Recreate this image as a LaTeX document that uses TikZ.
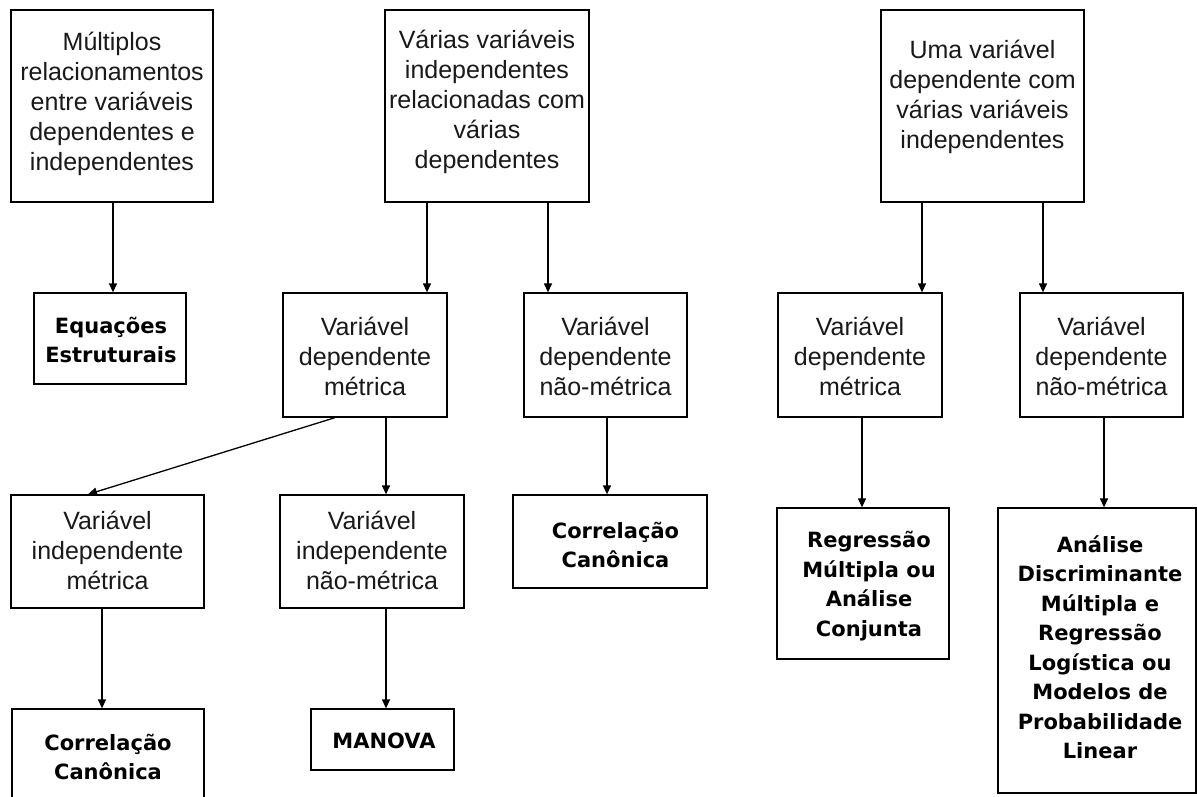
\documentclass[tikz,border=0pt]{standalone}
\usepackage{fontspec}
\setmainfont{Liberation Sans}
\newfontfamily\boldf{DejaVu Sans}
\usetikzlibrary{arrows.meta,calc}
\tikzset{
  box/.style={draw=black, line width=1.3pt, rectangle, inner sep=0pt, fill=white},
  txt/.style={align=center, inner sep=0pt, font=\fontsize{25}{30}\selectfont, text=black!90},
  btxt/.style={align=center, inner sep=0pt, font=\boldf\bfseries\fontsize{21}{29.5}\selectfont},
  arr/.style={draw=black, line width=1.3pt, -{Triangle[length=9pt,width=8pt]}}
}
\begin{document}
\begin{tikzpicture}[x=1pt,y=-1pt]
\useasboundingbox (0,0) rectangle (1197,797);
% top boxes
\node[box, minimum width=202pt, minimum height=192pt] (a) at (112,106) {};
\node[txt] (at) at (112,104) {Múltiplos\\relacionamentos\\entre variáveis\\dependentes e\\independentes};
\node[box, minimum width=204pt, minimum height=192pt] (b) at (487,106) {};
\node[txt] (bt) at (487,102) {Várias variáveis\\independentes\\relacionadas com\\várias\\dependentes};
\node[box, minimum width=203pt, minimum height=192pt] (c) at (982.5,106) {};
\node[txt] (ct) at (982.5,97) {Uma variável\\dependente com\\várias variáveis\\independentes};
% second row
\node[box, minimum width=152pt, minimum height=91pt] (e) at (110,338.5) {};
\node[btxt] (et) at (111,340) {Equações\\Estruturais};
\node[box, minimum width=164pt, minimum height=124pt] (dm1) at (365,355) {};
\node[txt] (dm1t) at (365,356) {Variável\\dependente\\métrica};
\node[box, minimum width=163pt, minimum height=124pt] (dnm1) at (605.5,355) {};
\node[txt] (dnm1t) at (605.5,356) {Variável\\dependente\\não-métrica};
\node[box, minimum width=164pt, minimum height=124pt] (dm2) at (860,355) {};
\node[txt] (dm2t) at (860,356) {Variável\\dependente\\métrica};
\node[box, minimum width=163pt, minimum height=124pt] (dnm2) at (1101.5,355) {};
\node[txt] (dnm2t) at (1101.5,356) {Variável\\dependente\\não-métrica};
% third row
\node[box, minimum width=193pt, minimum height=113pt] (im) at (107.5,551.5) {};
\node[txt] (imt) at (107.5,550) {Variável\\independente\\métrica};
\node[box, minimum width=184pt, minimum height=113pt] (inm) at (372,551.5) {};
\node[txt] (inmt) at (372,550) {Variável\\independente\\não-métrica};
\node[box, minimum width=194pt, minimum height=93pt] (cc2) at (610,541.5) {};
\node[btxt] (cc2t) at (615.5,545) {Correlação\\Canônica};
\node[box, minimum width=172pt, minimum height=151pt] (rm) at (863,583.5) {};
\node[btxt] (rmt) at (869,586) {Regressão\\Múltipla ou\\Análise\\Conjunta};
\node[box, minimum width=198pt, minimum height=285pt] (ad) at (1097,650.5) {};
\node[btxt] (adt) at (1100,647) {Análise\\Discriminante\\Múltipla e\\Regressão\\Logística ou\\Modelos de\\Probabilidade\\Linear};
% bottom row
\node[box, minimum width=192pt, minimum height=110pt] (cc1) at (108,764) {};
\node[btxt] (cc1t) at (108,757) {Correlação\\Canônica};
\node[box, minimum width=143pt, minimum height=61pt] (man) at (382.5,739.5) {};
\node[btxt] (mant) at (384,741) {MANOVA};
% connectors
\draw[arr] (a.south -| 113,0) -- (e.north -| 113,0);
\draw[arr] (b.south -| 427,0) -- (dm1.north -| 427,0);
\draw[arr] (b.south -| 548,0) -- (dnm1.north -| 548,0);
\draw[arr] (c.south -| 922,0) -- (dm2.north -| 922,0);
\draw[arr] (c.south -| 1043,0) -- (dnm2.north -| 1043,0);
\draw[arr] (dm1.south -| 335,0) -- (im.north -| 88,0);
\draw[arr] (dm1.south -| 386,0) -- (inm.north -| 386,0);
\draw[arr] (dnm1.south -| 607,0) -- (cc2.north -| 607,0);
\draw[arr] (dm2.south -| 862,0) -- (rm.north -| 862,0);
\draw[arr] (dnm2.south -| 1104,0) -- (ad.north -| 1104,0);
\draw[arr] (im.south -| 102,0) -- (cc1.north -| 102,0);
\draw[arr] (inm.south -| 386,0) -- (man.north -| 386,0);
\end{tikzpicture}
\end{document}
